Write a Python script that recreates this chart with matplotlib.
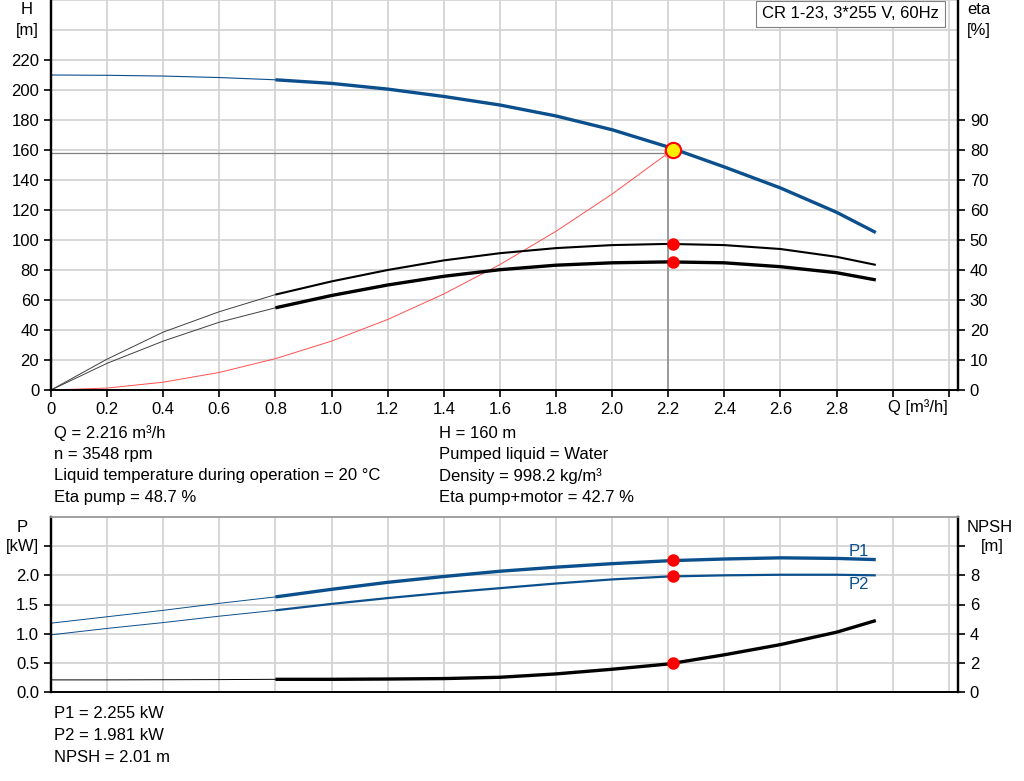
import matplotlib
matplotlib.use("Agg")
import matplotlib.pyplot as plt

plt.rcParams['font.family'] = ['Liberation Sans', 'DejaVu Sans']
plt.rcParams['font.size'] = 12

# flow points [m3/h]
q = [0, 0.2, 0.4, 0.6, 0.8, 1.0, 1.2, 1.4, 1.6, 1.8, 2.0, 2.2, 2.4, 2.6, 2.8, 2.94]

# head [m]
head = [210, 209.8, 209.3, 208.3, 206.8, 204.4, 200.6, 195.7, 190.0, 182.7, 173.5, 162.0, 148.7, 134.7, 118.5, 105.0]
# efficiency [%]
eta_pump = [0, 10.3, 19.3, 26.1, 31.8, 36.2, 40.0, 43.2, 45.6, 47.3, 48.3, 48.7, 48.3, 47.0, 44.4, 41.7]
eta_total = [0, 8.9, 16.3, 22.6, 27.4, 31.5, 35.0, 37.9, 40.1, 41.6, 42.4, 42.7, 42.4, 41.1, 39.1, 36.7]
# power [kW]
p1 = [1.18, 1.29, 1.40, 1.52, 1.63, 1.76, 1.88, 1.98, 2.07, 2.14, 2.20, 2.25, 2.28, 2.30, 2.29, 2.27]
p2 = [0.98, 1.09, 1.19, 1.30, 1.40, 1.51, 1.61, 1.70, 1.78, 1.86, 1.93, 1.98, 2.00, 2.01, 2.01, 2.00]
# NPSH [m]
npsh = [0.83, 0.83, 0.84, 0.85, 0.87, 0.87, 0.89, 0.92, 1.01, 1.24, 1.56, 1.92, 2.55, 3.25, 4.10, 4.90]

# system curve up to the requested duty point
q_sys = [0, 0.2, 0.4, 0.6, 0.8, 1.0, 1.2, 1.4, 1.6, 1.8, 2.0, 2.2]
h_sys = [0, 1.3, 5.2, 11.7, 20.9, 32.6, 47.0, 64.0, 83.6, 105.8, 130.6, 158.0]

# operating point
q_op = 2.216
h_op = 160
eta_pump_op = 48.7
eta_total_op = 42.7
p1_op = 2.255
p2_op = 1.981
npsh_op = 2.01
q_req = 2.2
h_req = 158

blue = '#0b4f8c'
grid_c = '#d4d4d4'
W, H = 1024, 781

fig = plt.figure(figsize=(10.24, 7.81), dpi=100)

def rect(l, t, r, b):
    return [l / W, 1 - b / H, (r - l) / W, (b - t) / H]

def split(x, y, at=0.8):
    i = x.index(at)
    return (x[:i + 1], y[:i + 1]), (x[i:], y[i:])

# ---------- top chart: H and eta ----------
ax1 = fig.add_axes(rect(51, 0, 958, 390))
ax2 = ax1.twinx()
ax1.set_xlim(0, 3.233)
ax1.set_ylim(0, 260)
ax2.set_ylim(0, 130)

xt = [round(0.2 * i, 1) for i in range(17)]
ax1.set_xticks(xt)
ax1.set_xticklabels(['0' if v == 0 else ('%.1f' % v if v < 2.9 else '') for v in xt])
ax1.set_yticks(range(0, 221, 20))
ax1.set_yticks([240, 260], minor=True)
ax1.tick_params(axis='y', which='minor', length=0)
ax1.grid(True, which='both', color=grid_c, lw=1.3)
ax1.set_axisbelow(True)
ax2.set_yticks(range(0, 91, 10))

for a in (ax1, ax2):
    a.spines['top'].set_visible(False)
    a.spines['left'].set_linewidth(1.6)
    a.spines['right'].set_linewidth(1.6)
    a.spines['bottom'].set_linewidth(1.2)
    a.tick_params(length=5, width=1.2, labelsize=12)

thin, thick = split(q, head)
ax1.plot(*thin, color=blue, lw=0.8)
ax1.plot(*thick, color=blue, lw=2.4, solid_capstyle='butt')

ax1.plot(q_sys, h_sys, color='#ff5050', lw=0.7)
ax1.plot([0, q_req], [h_req, h_req], color='#808080', lw=0.9)
ax1.plot([q_req, q_req], [0, h_req], color='#909090', lw=1.2)
ax1.plot(q_req, h_req, 'o', ms=6, mfc='none', mec='#ff9090', mew=0.8)

for vals, lw in ((eta_pump, 1.5), (eta_total, 2.4)):
    thin, thick = split(q, vals)
    ax2.plot(*thin, color='#404040', lw=0.7)
    ax2.plot(*thick, color='black', lw=lw, solid_capstyle='butt')
ax2.plot([q_op, q_op], [eta_pump_op, eta_total_op], 'o', color='red', ms=9, mec='none')
ax2.plot(q_op, h_op, 'o', ms=11, mfc='#ffee00', mec='red', mew=1.5,
         transform=ax1.transData, zorder=10)

fig.text(27 / W, 1 - 10 / H, 'H', ha='center', va='center')
fig.text(27 / W, 1 - 30 / H, '[m]', ha='center', va='center')
fig.text(979 / W, 1 - 10 / H, 'eta', ha='center', va='center')
fig.text(979 / W, 1 - 30 / H, '[%]', ha='center', va='center')
fig.text(918 / W, 1 - 407 / H, 'Q [m³/h]', ha='center', va='center')
fig.text(762 / W, 1 - 14 / H, 'CR 1-23, 3*255 V, 60Hz', ha='left', va='center',
         bbox=dict(boxstyle='square,pad=0.35', fc='white', ec='#808080', lw=0.8))

left_info = ['Q = 2.216 m³/h', 'n = 3548 rpm',
             'Liquid temperature during operation = 20 °C', 'Eta pump = 48.7 %']
right_info = ['H = 160 m', 'Pumped liquid = Water',
              'Density = 998.2 kg/m³', 'Eta pump+motor = 42.7 %']
for i, (lt, rt) in enumerate(zip(left_info, right_info)):
    y = 433 + i * 21.4
    fig.text(54 / W, 1 - y / H, lt, va='center')
    fig.text(439 / W, 1 - y / H, rt, va='center')

# ---------- bottom chart: P and NPSH ----------
ax3 = fig.add_axes(rect(51, 517, 958, 692))
ax4 = ax3.twinx()
ax3.set_xlim(0, 3.233)
ax3.set_ylim(0, 3.0)
ax4.set_ylim(0, 12)
ax3.set_xticks(xt)
ax3.set_xticklabels([])
ax3.tick_params(axis='x', length=0)
ax3.set_yticks([0, 0.5, 1.0, 1.5, 2.0, 2.5])
ax3.set_yticklabels(['0.0', '0.5', '1.0', '1.5', '2.0', ''])
ax3.grid(True, color=grid_c, lw=1.3)
ax3.set_axisbelow(True)
ax4.set_yticks(range(0, 11, 2))
ax4.set_yticklabels(['0', '2', '4', '6', '8', ''])

for a in (ax3, ax4):
    a.spines['top'].set_color('#a0a0a0')
    a.spines['top'].set_linewidth(1.2)
    a.spines['left'].set_linewidth(1.6)
    a.spines['right'].set_linewidth(1.6)
    a.spines['bottom'].set_linewidth(1.2)
    a.tick_params(axis='y', length=5, width=1.2, labelsize=12)

for vals, lw in ((p1, 2.4), (p2, 1.6)):
    thin, thick = split(q, vals)
    ax3.plot(*thin, color=blue, lw=0.7)
    ax3.plot(*thick, color=blue, lw=lw, solid_capstyle='butt')
ax3.text(2.88, p1[-2] + 0.12, 'P1', color=blue, ha='center', va='center', fontsize=12)
ax3.text(2.88, p2[-2] - 0.16, 'P2', color=blue, ha='center', va='center', fontsize=12)

thin, thick = split(q, npsh)
ax4.plot(*thin, color='black', lw=0.7)
ax4.plot(*thick, color='black', lw=2.4, solid_capstyle='butt')
ax4.plot(q_op, npsh_op, 'o', color='red', ms=9, mec='none', zorder=10)
ax4.plot([q_op, q_op], [p1_op, p2_op], 'o', color='red', ms=9, mec='none',
         transform=ax3.transData, zorder=10)

fig.text(22 / W, 1 - 527 / H, 'P', ha='center', va='center')
fig.text(22 / W, 1 - 547 / H, '[kW]', ha='center', va='center')
fig.text(990 / W, 1 - 527 / H, 'NPSH', ha='center', va='center')
fig.text(992 / W, 1 - 547 / H, '[m]', ha='center', va='center')

bottom_info = ['P1 = 2.255 kW', 'P2 = 1.981 kW', 'NPSH = 2.01 m']
for i, t in enumerate(bottom_info):
    fig.text(54 / W, 1 - (714 + i * 21.5) / H, t, va='center')

fig.savefig('out.png', dpi=100, facecolor='white')
